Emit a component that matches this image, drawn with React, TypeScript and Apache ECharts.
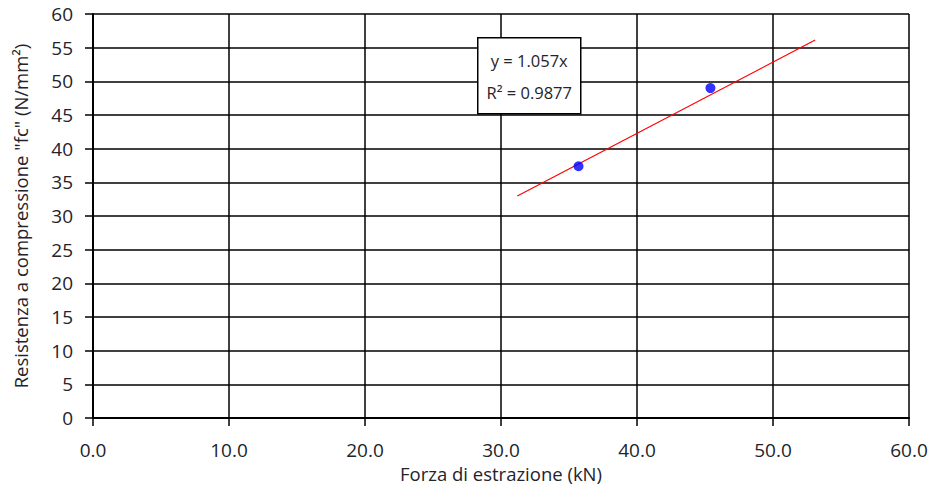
import React, { useEffect, useRef } from "react";
import * as echarts from "echarts";

// Measured pull-out force (kN) vs. compressive strength (N/mm²)
const forceKN = [35.7, 45.4];
const strength = [37.4, 49.0];

// Linear trendline through the origin
const slope = 1.057;
const r2 = 0.9877;
const fitRange = [31.2, 53.1];

const xTicks = { min: 0, max: 60, interval: 10 };
const yTicks = { min: 0, max: 60, interval: 5 };

const FONT = "'Open Sans', 'Noto Sans', sans-serif";
const TEXT = "#23232b";

export default function App() {
  const ref = useRef<HTMLDivElement>(null);

  useEffect(() => {
    document.body.style.margin = "0";
    document.body.style.overflow = "hidden";
    if (!ref.current) return;
    const chart = echarts.init(ref.current, undefined, { renderer: "svg" });

    const points = forceKN.map((x, i) => [x, strength[i]]);
    const fit = fitRange.map((x) => [x, +(slope * x).toFixed(3)]);

    chart.setOption({
      animation: false,
      backgroundColor: "#ffffff",
      grid: { left: 93, top: 14, right: 24, bottom: 69, containLabel: false },
      xAxis: {
        type: "value",
        min: xTicks.min,
        max: xTicks.max,
        interval: xTicks.interval,
        name: "Forza di estrazione (kN)",
        nameLocation: "middle",
        nameGap: 42,
        nameTextStyle: { color: TEXT, fontFamily: FONT, fontSize: 18.5 },
        axisLine: { show: true, onZero: false, lineStyle: { color: "#000", width: 2 } },
        axisTick: { show: true, inside: false, length: 8, lineStyle: { color: "#000", width: 1.5 } },
        axisLabel: {
          color: TEXT,
          fontFamily: FONT,
          fontSize: 19,
          margin: 22,
          formatter: (v: number) => v.toFixed(1),
        },
        splitLine: { show: true, lineStyle: { color: "#000", width: 1.5 } },
      },
      yAxis: {
        type: "value",
        min: yTicks.min,
        max: yTicks.max,
        interval: yTicks.interval,
        name: 'Resistenza a compressione "fc" (N/mm²)',
        nameLocation: "middle",
        nameGap: 63,
        nameTextStyle: { color: TEXT, fontFamily: FONT, fontSize: 18.5 },
        axisLine: { show: true, onZero: false, lineStyle: { color: "#000", width: 2 } },
        axisTick: { show: true, inside: false, length: 8, lineStyle: { color: "#000", width: 1.5 } },
        axisLabel: { color: TEXT, fontFamily: FONT, fontSize: 19, margin: 20 },
        splitLine: { show: true, lineStyle: { color: "#000", width: 1.5 } },
      },
      graphic: [
        {
          type: "group",
          left: 477,
          top: 37,
          z: 100,
          children: [
            {
              type: "rect",
              z: 100,
              shape: { x: 0, y: 0, width: 103, height: 76 },
              style: { fill: "#ffffff", stroke: "#000", lineWidth: 1.5 },
            },
            {
              type: "text",
              z: 101,
              x: 51.5,
              y: 23,
              style: {
                text: `y = ${slope}x`,
                fill: TEXT,
                font: `16.5px ${FONT}`,
                align: "center",
                verticalAlign: "middle",
              },
            },
            {
              type: "text",
              z: 101,
              x: 51.5,
              y: 55,
              style: {
                text: `R² = ${r2}`,
                fill: TEXT,
                font: `16.5px ${FONT}`,
                align: "center",
                verticalAlign: "middle",
              },
            },
          ],
        },
      ],
      series: [
        {
          name: "Trendline",
          type: "line",
          data: fit,
          symbol: "none",
          lineStyle: { color: "#ff0000", width: 1.2 },
          z: 3,
        },
        {
          name: "Dati",
          type: "scatter",
          data: points,
          symbol: "circle",
          symbolSize: 10,
          itemStyle: { color: "#0000ff" },
          z: 4,
        },
      ],
    });

    return () => chart.dispose();
  }, []);

  return (
    <div
      ref={ref}
      style={{ position: "fixed", left: 0, top: 0, width: 933, height: 488, overflow: "hidden" }}
    />
  );
}
